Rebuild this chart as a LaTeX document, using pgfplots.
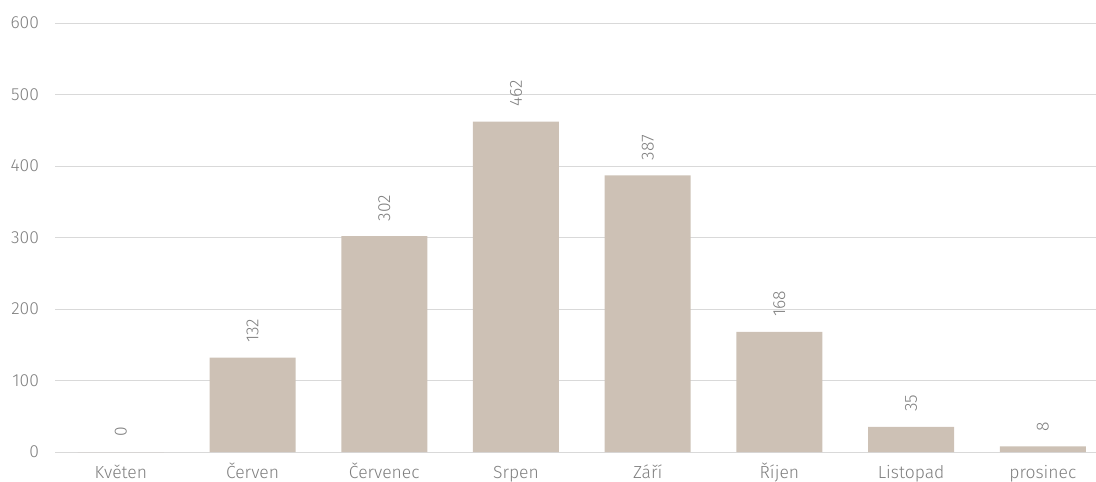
\documentclass[border=0pt]{standalone}
\usepackage{fontspec}
\setmainfont{Fira Sans Light}
\usepackage{pgfplots}
\pgfplotsset{compat=1.18}
\definecolor{barc}{HTML}{CDC1B5}
\definecolor{gridc}{HTML}{D9D9D9}
\definecolor{txt}{HTML}{7F7F7F}
\begin{document}
\fontsize{17.5bp}{20bp}\selectfont
\begin{tikzpicture}
\begin{axis}[
  scale only axis,
  width=1041bp, height=429bp,
  anchor=south west, at={(0,0)},
  xmin=-0.5, xmax=7.404, ymin=0, ymax=600,
  ytick={0,100,...,600},
  xtick={0,...,7},
  xticklabels={Květen,Červen,Červenec,Srpen,Září,Říjen,Listopad,prosinec},
  axis line style={draw=none},
  ymajorgrids, grid style={gridc, line width=1bp},
  major tick length=0pt,
  ticklabel style={text=txt, font=\fontsize{17.5bp}{20bp}\selectfont},
  /pgf/number format/assume math mode=true,
  yticklabel style={xshift=-10bp},
  xticklabel style={yshift=-6.5bp, text height=14bp, text depth=4bp},
  enlargelimits=false,
  clip=false,
]
\addplot[ybar, bar width=86bp, fill=barc, draw=none,
  nodes near coords,
  nodes near coords style={rotate=90, anchor=west, text=txt, xshift=9bp, font=\fontsize{17.5bp}{20bp}\selectfont},
] coordinates {(0,0) (1,132) (2,302) (3,462) (4,387) (5,168) (6,35) (7,8)};
\end{axis}
\pgfresetboundingbox
\path (-55bp,-30bp) rectangle (1041bp,452bp);
\end{tikzpicture}
\end{document}
